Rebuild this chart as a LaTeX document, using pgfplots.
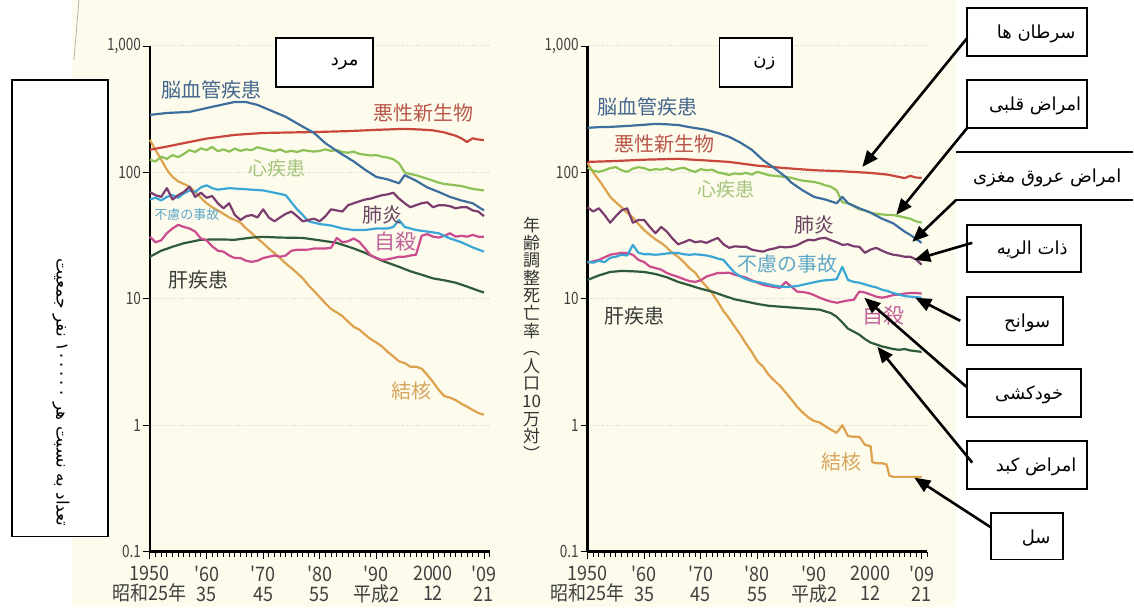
\documentclass[border=0pt]{standalone}
\usepackage{fontspec}
\usepackage{pgfplots}
\pgfplotsset{compat=1.18}
\usetikzlibrary{arrows.meta}
\newfontfamily\jp{Noto Sans CJK JP}
\newfontfamily\fa[Script=Arabic]{DejaVu Sans}
\TeXXeTstate=1
\definecolor{cream}{HTML}{FDFBEC}
\definecolor{cCV}{HTML}{3D6E9E}\definecolor{tCV}{HTML}{44668E}
\definecolor{cCa}{HTML}{C8463C}\definecolor{tCa}{HTML}{B9574A}
\definecolor{cHt}{HTML}{8DC156}\definecolor{tHt}{HTML}{A3C47A}
\definecolor{cPn}{HTML}{7B3C6F}\definecolor{tPn}{HTML}{6B4463}
\definecolor{cAc}{HTML}{3AA6D6}\definecolor{tAc}{HTML}{5FA8C8}
\definecolor{cSu}{HTML}{CC4A8E}\definecolor{tSu}{HTML}{C0649A}
\definecolor{cLv}{HTML}{2E5B3C}\definecolor{tLv}{HTML}{3A3A3A}
\definecolor{cTB}{HTML}{DDA24E}\definecolor{tTB}{HTML}{D6A45A}
\begin{document}
\begin{tikzpicture}
\pgfplotsset{every axis/.append style={
  scale only axis, width=170pt, height=253pt,
  xmin=1950, xmax=2010, ymin=0.1, ymax=1000,
  axis lines=left, axis line style={-, line width=1.3pt, black},
  ytick={0.1,1,10,100,1000}, yticklabels={0.1,1,10,100,{1,000}},
  yminorticks=false,
  xtick={1950,1960,1970,1980,1990,2000,2009},
  xticklabels={{1950\\昭和25年},{'60\\35},{'70\\45},{'80\\55},{'90\\平成2},{2000\\12},{'09\\21}},
  minor xtick={1950,1951,...,2010},
  tick align=outside, major tick length=3.5pt, minor tick length=2.5pt,
  tick style={black, line width=0.4pt},
  ymajorgrids, major grid style={gray!35, densely dotted, line width=0.5pt},
  yticklabel style={font=\jp\fontsize{8.5}{9}\selectfont, text=black!75, xscale=0.8, inner xsep=1pt},
  xticklabel style={font=\jp\fontsize{10}{10}\selectfont, text=black!75, align=center, xscale=0.9},
  clip=false},
  every axis plot/.append style={line width=1.1pt, no markers, line join=round}}
\begin{scope}[x=0.5pt,y=-0.5pt]
\path[use as bounding box] (0,0) rectangle (1134,607);
\fill[cream] (72,0) rectangle (957,607);
\draw[gray!60, line width=0.4pt] (79,0) -- (74,60);
\end{scope}
% ---------------- men
\begin{semilogyaxis}[at={(75pt,-276pt)}, anchor=south west]
\addplot[cTB] coordinates {(1950,181)(1951,150)(1952,126)(1953,105)(1954,92)(1955,85)(1956,81)(1957,77)(1958,70)(1959,63)(1960,57)(1961,53)(1962,50)(1963,47)(1964,44)(1965,42)(1966,40)(1967,36)(1968,33)(1969,30)(1970,27.5)(1971,25)(1972,23)(1973,21)(1974,19)(1975,17.5)(1976,16)(1977,14.5)(1978,12.8)(1979,11.5)(1980,10.3)(1981,9.2)(1982,8.3)(1983,7.8)(1984,7.3)(1985,6.6)(1986,6.0)(1987,5.7)(1988,5.2)(1989,4.8)(1990,4.5)(1991,4.2)(1992,3.8)(1993,3.5)(1994,3.2)(1995,3.1)(1996,2.9)(1997,2.9)(1998,2.8)(1999,2.5)(2000,2.2)(2001,1.9)(2002,1.7)(2003,1.65)(2004,1.58)(2005,1.48)(2006,1.40)(2007,1.32)(2008,1.25)(2009,1.21)};
\addplot[cLv] coordinates {(1950,21.5)(1952,24)(1954,25.8)(1956,27.5)(1959,29.3)(1962,29.5)(1965,29.3)(1968,30.5)(1970,30.9)(1973,30.5)(1977,30.3)(1980,29)(1983,27.7)(1986,25)(1988,23.1)(1991,20)(1994,17.9)(1996,16.5)(1998,15.5)(2000,14.5)(2002,14)(2004,13.4)(2006,12.5)(2008,11.6)(2009,11.2)};
\addplot[cSu] coordinates {(1950,31)(1951,28)(1952,29)(1953,33)(1954,36)(1955,38.5)(1956,37)(1957,36)(1958,34)(1959,30)(1960,29)(1961,26)(1962,24)(1963,23.6)(1964,22)(1965,21)(1966,21)(1967,20)(1968,19.6)(1969,20)(1970,21)(1971,21.5)(1972,22)(1973,21.5)(1974,22)(1975,24)(1976,24.4)(1977,24.4)(1978,24.5)(1979,25)(1980,25)(1981,25)(1982,25.3)(1983,30.3)(1984,28)(1985,28.5)(1986,30)(1987,28.2)(1988,25)(1989,22)(1990,21)(1991,20.3)(1992,20.5)(1993,21)(1994,21.5)(1995,21.5)(1996,22)(1997,22.3)(1998,31.5)(1999,32.5)(2000,31)(2001,30.5)(2002,31.5)(2003,33)(2004,31)(2005,31.5)(2006,31)(2007,32)(2008,31)(2009,31)};
\addplot[cAc] coordinates {(1950,61)(1951,63)(1952,60)(1953,64)(1954,66)(1955,63)(1956,68)(1957,72)(1958,70)(1959,76)(1960,79)(1961,75)(1962,73)(1964,75)(1966,74)(1968,73)(1970,72)(1972,69)(1974,66)(1975,58)(1976,51)(1977,46)(1978,41)(1980,39)(1982,38)(1984,36)(1986,35)(1988,35)(1990,36)(1992,36)(1993,37)(1994,42)(1995,37)(1997,35)(1999,34)(2001,33)(2003,30)(2005,28)(2007,25.5)(2009,23.6)};
\addplot[cPn] coordinates {(1950,70)(1951,66)(1952,64)(1953,75)(1954,61)(1955,66)(1956,70)(1957,77)(1958,64)(1959,69)(1960,63)(1961,65)(1962,57)(1963,52)(1964,57)(1965,46)(1966,42)(1967,45)(1968,46)(1969,44)(1970,51)(1971,44)(1972,41)(1973,44)(1974,47)(1975,49)(1976,45)(1977,41)(1978,42)(1979,43)(1980,41)(1981,45)(1982,51)(1983,50)(1984,49)(1985,55)(1986,57)(1987,59)(1988,61)(1989,62)(1990,64)(1991,66)(1992,67)(1993,69)(1994,62)(1995,57)(1996,53)(1997,55)(1998,57)(1999,58)(2000,53)(2001,55)(2002,55)(2003,54)(2004,52)(2005,53)(2006,53)(2007,50)(2008,49)(2009,45)};
\addplot[cHt] coordinates {(1950,126)(1951,122)(1952,133)(1953,128)(1954,137)(1955,132)(1956,140)(1957,150)(1958,145)(1959,155)(1960,150)(1961,159)(1962,147)(1963,152)(1964,146)(1965,154)(1966,148)(1967,152)(1968,150)(1969,158)(1970,154)(1971,150)(1972,147)(1973,152)(1974,145)(1975,148)(1976,145)(1977,150)(1978,148)(1979,146)(1980,148)(1981,152)(1982,148)(1983,150)(1984,145)(1985,143)(1986,146)(1987,140)(1988,138)(1989,136)(1990,137)(1991,133)(1992,131)(1993,127)(1994,118)(1995,100)(1996,97)(1997,95)(1998,92)(1999,89)(2000,86)(2001,83)(2002,81)(2003,80)(2004,79)(2005,78)(2006,76)(2007,74)(2008,73)(2009,72)};
\addplot[cCa] coordinates {(1950,151)(1953,160)(1957,174)(1960,185)(1965,198)(1970,205)(1975,207)(1980,209)(1985,212)(1990,217)(1995,221)(1998,218)(2000,215)(2002,207)(2004,195)(2005,186)(2006,174)(2007,186)(2008,182)(2009,180)};
\addplot[cCV] coordinates {(1950,285)(1953,295)(1957,301)(1961,330)(1965,361)(1967,360)(1969,342)(1972,300)(1974,275)(1977,230)(1979,205)(1981,170)(1983.5,143)(1986,122)(1988,105)(1990,92)(1992,88)(1994,82)(1995,95)(1997,86)(1999,76)(2001,70)(2003,64)(2005,60)(2007,57)(2009,50)};
\end{semilogyaxis}
% ---------------- women
\begin{semilogyaxis}[at={(294pt,-276pt)}, anchor=south west]
\addplot[cTB] coordinates {(1950,119)(1951,100)(1952,87)(1953,75)(1954,64)(1955,58)(1956,53)(1957,48)(1958,44)(1959,39)(1960,35)(1961,32)(1962,29.5)(1963,27.7)(1964,25.5)(1965,23)(1966,21.5)(1967,19.5)(1968,17.5)(1969,16.1)(1970,14)(1971,12.5)(1972,11.1)(1973,9.5)(1974,8.0)(1975,7.0)(1976,6.0)(1977,5.2)(1978,4.4)(1979,3.8)(1980,3.2)(1981,2.9)(1982,2.5)(1983,2.25)(1984,2.05)(1985,1.81)(1986,1.6)(1987,1.4)(1988,1.26)(1989,1.15)(1990,1.08)(1991,1.05)(1992,0.98)(1993,0.92)(1994,0.87)(1995,1.0)(1996,0.82)(1997,0.81)(1998,0.81)(1999,0.70)(2000,0.68)(2000.3,0.51)(2001,0.50)(2002,0.50)(2002.8,0.49)(2003.3,0.40)(2004,0.39)(2005,0.39)(2006,0.39)(2007,0.39)(2008,0.39)(2009,0.39)};
\addplot[cLv] coordinates {(1950,14.1)(1952,15.3)(1954,16.3)(1956,16.6)(1958,16.5)(1960,16.3)(1962,15.7)(1964,14.8)(1966,13.6)(1968,12.8)(1970,12)(1972,11.4)(1974,10.6)(1976,9.9)(1978,9.5)(1980,9.1)(1982,8.8)(1985,8.6)(1988,8.4)(1991,8.2)(1993,7.7)(1994,7.2)(1995,6.5)(1996,5.8)(1997,5.5)(1998,5.2)(1999,4.8)(2000,4.5)(2001,4.35)(2002,4.2)(2003,4.1)(2004,4.0)(2005,3.95)(2006,4.0)(2007,3.9)(2008,3.85)(2009,3.8)};
\addplot[cSu] coordinates {(1950,19.3)(1952,20.3)(1954,22.3)(1956,23.1)(1957,23)(1958,22.3)(1959,20.3)(1960,19.5)(1961,18)(1962,17.5)(1963,17)(1964,16)(1965,15.4)(1966,14.9)(1967,14.3)(1968,13.8)(1969,13.6)(1970,14)(1971,15)(1972,15.5)(1973,16)(1974,16)(1975,16.1)(1976,15.5)(1977,15.1)(1978,14.7)(1979,14)(1980,13.4)(1981,12.9)(1982,12.6)(1983,12.4)(1984,12.2)(1985,13.6)(1986,12.5)(1987,11.4)(1988,11.3)(1989,11.1)(1990,10.7)(1991,10.2)(1992,9.8)(1993,9.5)(1994,9.3)(1995,9.5)(1996,9.7)(1997,9.8)(1998,11.4)(1999,11.2)(2000,10.8)(2001,10.4)(2002,10.2)(2003,10.4)(2004,10.7)(2005,10.8)(2006,11)(2007,11.1)(2008,11.1)(2009,11.0)};
\addplot[cAc] coordinates {(1950,19.6)(1951,19.3)(1952,20)(1953,19.5)(1954,21.1)(1955,21.5)(1956,22.3)(1957,22)(1958,26.7)(1959,23.1)(1960,22.5)(1961,22.5)(1962,22.3)(1963,22.5)(1964,22.8)(1965,23.1)(1966,23)(1967,22.5)(1968,22.3)(1969,22.5)(1970,22.3)(1971,22)(1972,21.5)(1973,20.8)(1974,20.3)(1975,18)(1976,16.1)(1977,15)(1978,14.3)(1979,13.8)(1980,13.6)(1981,13.3)(1982,13)(1983,12.7)(1984,12.5)(1985,12.4)(1986,12.5)(1987,12.6)(1988,12.9)(1989,13.2)(1990,13.5)(1991,13.8)(1992,14)(1993,14.1)(1994,14.3)(1995,17.9)(1996,14.1)(1997,13.6)(1998,13.4)(1999,13)(2000,12.6)(2001,12.3)(2002,11.8)(2003,11.5)(2004,11.1)(2005,10.8)(2006,10.5)(2007,10.4)(2008,10.3)(2009,10.2)};
\addplot[cPn] coordinates {(1950,53)(1951,49)(1952,52)(1953,46)(1954,40)(1955,45)(1956,50)(1957,52)(1958,40)(1959,42)(1960,42)(1961,37)(1962,33)(1963,37)(1964,34)(1965,30)(1966,27)(1967,28)(1968,29.3)(1969,28)(1970,28.5)(1971,27.7)(1972,29)(1973,30.3)(1974,27)(1975,25.3)(1976,26)(1977,25.8)(1978,25.8)(1979,24.5)(1980,24)(1981,23.6)(1982,24.5)(1983,25)(1984,25.8)(1985,25.5)(1986,25.8)(1987,26.5)(1988,28)(1989,29.3)(1990,29)(1991,30)(1992,30.3)(1993,29)(1994,28)(1995,26.7)(1996,27)(1997,26)(1998,25.8)(1999,23.1)(2000,24.5)(2001,25.3)(2002,24)(2003,23)(2004,22.3)(2005,22)(2006,21.5)(2007,21.5)(2008,20.5)(2009,18.6)};
\addplot[cHt] coordinates {(1950,109)(1951,103)(1952,101)(1953,104)(1954,108)(1955,110)(1956,104)(1957,101)(1958,107)(1959,110)(1960,108)(1961,104)(1962,106)(1963,105)(1964,108)(1965,104)(1966,107)(1967,109)(1968,104)(1969,101)(1970,106)(1971,104)(1972,105)(1973,100)(1974,98)(1975,95.5)(1976,98)(1977,97)(1978,99)(1979,96)(1980,101)(1981,98)(1982,95)(1983,94)(1984,93)(1985,92)(1986,90.6)(1987,88)(1988,86)(1989,85)(1990,84)(1991,82)(1992,79)(1993,77)(1994,72)(1995,58)(1996,57)(1997,54)(1998,51)(1999,50)(2000,48)(2001,47)(2002,46.5)(2003,46)(2004,46)(2005,45)(2006,44)(2007,43)(2008,41)(2009,40)};
\addplot[cCa] coordinates {(1950,121)(1955,123)(1960,126)(1966,128)(1970,125)(1975,121)(1980,113)(1985,108)(1990,104)(1995,102)(2000,99)(2003,96)(2004,94)(2005,92)(2006,90)(2007,93.8)(2008,91)(2009,90.6)};
\addplot[cCV] coordinates {(1950,225)(1952,228)(1954,229)(1957,233)(1960,238)(1962,242)(1964,240)(1966,237)(1968,228)(1971,217)(1973,205)(1975,191)(1977,172)(1979,151)(1981,125)(1983,108)(1985,92)(1986,83)(1988,72)(1990,64)(1992,61)(1994,57)(1995,64)(1996,57)(1998,52)(2000,48)(2002,43)(2004,39.5)(2006,34)(2007,32)(2009,27.7)};
\end{semilogyaxis}
% ---------------- annotations
\begin{scope}[x=0.5pt,y=-0.5pt,
  box/.style={draw=black, line width=0.9pt, fill=white},
  arr/.style={line width=1.3pt, -{Triangle[length=8pt,width=6.5pt]}},
  fa/.style={font=\fa\fontsize{9}{10.8}\selectfont},
  lab/.style={font=\jp\fontsize{10}{10}\selectfont, inner sep=0pt}]
% left labels
\node[lab, text=tCV] at (212,90) {脳血管疾患};
\node[lab, text=tCa] at (424,113) {悪性新生物};
\node[lab, text=tHt, font=\jp\fontsize{9.5}{10}\selectfont] at (277,168) {心疾患};
\node[lab, text=tAc, font=\jp\fontsize{6.5}{7}\selectfont] at (187,215) {不慮の事故};
\node[lab, text=tPn] at (383,215) {肺炎};
\node[lab, text=tSu, font=\jp\fontsize{10.5}{11}\selectfont] at (396,242) {自殺};
\node[lab, text=tLv] at (199,280) {肝疾患};
\node[lab, text=tTB] at (412,391) {結核};
% right labels
\node[lab, text=tCV] at (648,107) {脳血管疾患};
\node[lab, text=tCa] at (665,144) {悪性新生物};
\node[lab, text=tHt, font=\jp\fontsize{9.5}{10}\selectfont] at (727,189) {心疾患};
\node[lab, text=tPn] at (815,225) {肺炎};
\node[lab, text=tAc] at (788,264) {不慮の事故};
\node[lab, text=tSu, font=\jp\fontsize{10.5}{11}\selectfont] at (884,316) {自殺};
\node[lab, text=tLv] at (635,316) {肝疾患};
\node[lab, text=tTB] at (842,462) {結核};
% vertical axis title
\node[font=\jp\fontsize{8.5}{8.8}\selectfont, align=center, text=black!80, inner sep=0pt] at (532,339) {年\\齢\\調\\整\\死\\亡\\率\\︵\\人\\口\\10\\万\\対\\︶};
% Persian boxes
\draw[box] (12,80) rectangle (108,537);
\node[font=\fa\fontsize{8.5}{10}\selectfont, rotate=-90] at (61,393) {\beginR تعداد به نسبت هر \beginL۱۰۰۰۰۰\endL{} نفر جمعیت\endR};
\draw[box] (276,38) rectangle (373,87);
\node[fa] at (345,64) {\beginR مرد\endR};
\draw[box] (720,38) rectangle (793,87);
\node[fa] at (765,64) {\beginR زن\endR};
\draw[box] (968,8) rectangle (1088,56);
\node[fa] at (1037,34) {\beginR سرطان ها\endR};
\draw[box] (968,80) rectangle (1088,128);
\node[fa] at (1036,106) {\beginR امراض قلبی\endR};
\draw[line width=0.9pt] (957,152) -- (1134,152);
\draw[line width=0.9pt] (957,200) -- (1134,200);
\node[fa] at (1048,178) {\beginR امراض عروق مغزی\endR};
\draw[box] (968,225) rectangle (1082,272);
\node[fa] at (1033,250) {\beginR ذات الریه\endR};
\draw[box] (968,297) rectangle (1064,345);
\node[fa] at (1028,323) {\beginR سوانح\endR};
\draw[box] (968,369) rectangle (1082,417);
\node[fa] at (1030,395) {\beginR خودکشی\endR};
\draw[box] (968,441) rectangle (1088,489);
\node[fa] at (1037,467) {\beginR امراض کبد\endR};
\draw[box] (992,513) rectangle (1064,560);
\node[fa] at (1037,538) {\beginR سل\endR};
% arrows
\draw[arr] (968,38) -- (863,167);
\draw[arr] (968,128) -- (897,215);
\draw[arr] (957,200) -- (913,242);
\draw[arr] (973,243) -- (915,260);
\draw[arr] (961,321) -- (916,298);
\draw[arr] (967,387) -- (865,298);
\draw[arr] (973,463) -- (878,347);
\draw[arr] (992,528) -- (915,478);
\end{scope}
\end{tikzpicture}
\end{document}
